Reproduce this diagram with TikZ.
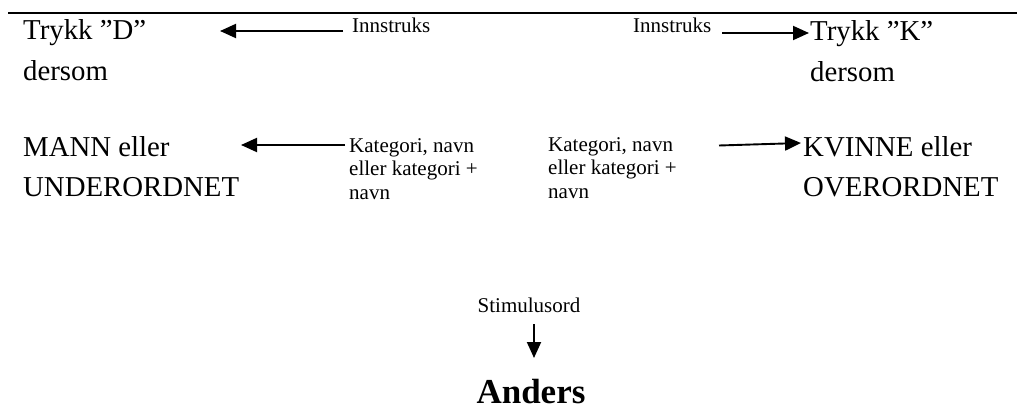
\documentclass[tikz,border=0pt]{standalone}
\usepackage{fontspec}
\setmainfont{Liberation Serif}
\usetikzlibrary{arrows.meta}
\tikzset{
  big/.style={anchor=base west, inner sep=0pt, font=\fontsize{28.8}{34}\selectfont},
  small/.style={anchor=base west, inner sep=0pt, font=\fontsize{21}{25}\selectfont},
  arr/.style={line width=1.9pt, -{Triangle[length=16pt,width=14pt]}},
}
\begin{document}
\begin{tikzpicture}[x=1pt,y=-1pt]
\useasboundingbox (0,0) rectangle (1017,412);
% top rule
\coordinate (ruleL) at (8,13);
\coordinate (ruleR) at (1017,13);
\draw[line width=2pt] (ruleL) -- (ruleR);

% left column
\node[big] (trykkD) at (23,40) {Trykk ”D”};
\node[big] (dersomD) at (23,81) {dersom};
\node[big] (mann) at (23,156) {MANN eller};
\node[big] (under) at (23,196) {UNDERORDNET};

% right column
\node[big] (trykkK) at (810,40.5) {Trykk ”K”};
\node[big] (dersomK) at (810,81.5) {dersom};
\node[big] (kvinne) at (803,156) {KVINNE eller};
\node[big] (over) at (803,196) {OVERORDNET};

% instruction labels
\node[small] (innL) at (352,33) {Innstruks};
\node[small] (innR) at (633,33) {Innstruks};

% stimulus type labels
\node[small] (katL1) at (349,152) {Kategori, navn};
\node[small] (katL2) at (349,175.5) {eller kategori +};
\node[small] (katL3) at (349,199) {navn};
\node[small] (katR1) at (548,151) {Kategori, navn};
\node[small] (katR2) at (548,174.5) {eller kategori +};
\node[small] (katR3) at (548,198) {navn};

% stimulus word
\node[small, anchor=base] (stim) at (529,312) {Stimulusord};
\node[anchor=base, inner sep=0pt, font=\fontsize{35}{40}\selectfont\bfseries] (anders) at (531,403) {Anders};

% arrows
\coordinate (aL1) at (343,31);
\coordinate (tL1) at (220,31);
\coordinate (aR1) at (722,33);
\coordinate (tR1) at (809,33);
\coordinate (aL2) at (345,145);
\coordinate (tL2) at (241,145);
\coordinate (aR2) at (719,145.5);
\coordinate (tR2) at (801,143);
\coordinate (sTop) at (534,324);
\coordinate (sTip) at (534,358);
\draw[arr] (aL1) -- (tL1);
\draw[arr] (aR1) -- (tR1);
\draw[arr] (aL2) -- (tL2);
\draw[arr] (aR2) -- (tR2);
\draw[arr] (sTop) -- (sTip);
\end{tikzpicture}
\end{document}
